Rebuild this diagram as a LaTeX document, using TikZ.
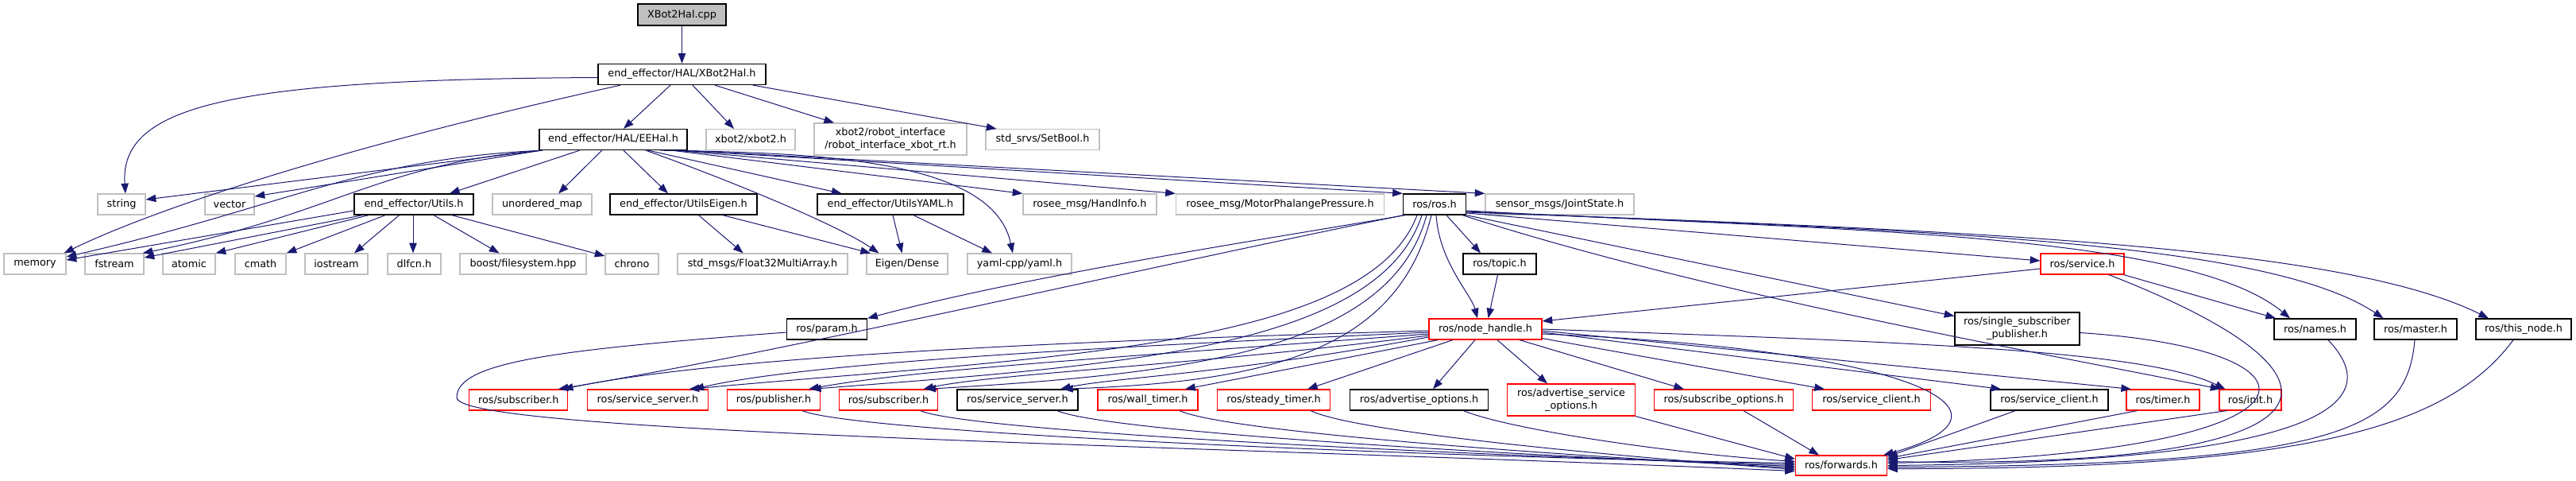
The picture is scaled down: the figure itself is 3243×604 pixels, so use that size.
\documentclass[tikz,border=0pt]{standalone}
\usepackage{fontspec}
\setmainfont{DejaVu Sans}
\usetikzlibrary{arrows.meta,calc}
\definecolor{edgec}{HTML}{191970}
\definecolor{grayb}{HTML}{BFBFBF}
\definecolor{redb}{HTML}{FF0000}
\begin{document}
\begin{tikzpicture}[x=0.75pt,y=-0.75pt,
 base/.style={rectangle, inner sep=0pt, minimum height=19.5pt, fill=white, font=\fontsize{9.6pt}{12pt}\selectfont, align=center},
 nb/.style={base, draw=black, line width=1pt},
 ng/.style={base, draw=grayb, line width=0.9pt},
 nr/.style={base, draw=redb, line width=0.9pt},
 bw/.style={minimum width=#1*0.75pt},
 bh/.style={minimum height=#1*0.75pt},
 conn/.style={draw=edgec, line width=0.75pt, -{Triangle[length=9.5pt,width=7pt]}},
]
\useasboundingbox (0,0) rectangle (3243,604);
% row 0
\node[nb,bw=111,bh=27,fill=grayb] (cpp) at (858.5,18.5) {XBot2Hal.cpp};
% row 1
\node[nb,bw=211] (xh) at (858.5,93.5) {end\_effector/HAL/XBot2Hal.h};
% row 2
\node[nb,bw=186] (ee) at (772,175.5) {end\_effector/HAL/EEHal.h};
\node[ng,bw=112] (xbot2) at (945,175.5) {xbot2/xbot2.h};
\node[ng,bw=192,bh=40] (ri) at (1121,175) {xbot2/robot\_interface\\/robot\_interface\_xbot\_rt.h};
\node[ng,bw=143] (sb) at (1312.5,175.5) {std\_srvs/SetBool.h};
% row 3
\node[ng,bw=60] (string) at (153,257) {string};
\node[ng,bw=62] (vector) at (289,257) {vector};
\node[nb,bw=150] (utils) at (521,257) {end\_effector/Utils.h};
\node[ng,bw=125] (umap) at (682.5,257) {unordered\_map};
\node[nb,bw=185] (ueig) at (860.5,257) {end\_effector/UtilsEigen.h};
\node[nb,bw=184] (uyaml) at (1121,257) {end\_effector/UtilsYAML.h};
\node[ng,bw=168] (hand) at (1372,257) {rosee\_msg/HandInfo.h};
\node[ng,bw=262] (motor) at (1611.5,257) {rosee\_msg/MotorPhalangePressure.h};
\node[nb,bw=79] (ros) at (1806,257) {ros/ros.h};
\node[ng,bw=187] (joint) at (1963.5,257) {sensor\_msgs/JointState.h};
% row 4
\node[ng,bw=78] (memory) at (44,332) {memory};
\node[ng,bw=74] (fstream) at (144,332) {fstream};
\node[ng,bw=66] (atomic) at (238,332) {atomic};
\node[ng,bw=64] (cmath) at (328,332) {cmath};
\node[ng,bw=79] (iostream) at (423.5,332) {iostream};
\node[ng,bw=67] (dlfcn) at (521.5,332) {dlfcn.h};
\node[ng,bw=159] (boost) at (658.5,332) {boost/filesystem.hpp};
\node[ng,bw=67] (chrono) at (795.5,332) {chrono};
\node[ng,bw=214] (f32) at (960,332) {std\_msgs/Float32MultiArray.h};
\node[ng,bw=102] (dense) at (1142,332) {Eigen/Dense};
\node[ng,bw=131] (yaml) at (1283.5,332) {yaml-cpp/yaml.h};
\node[nb,bw=92] (topic) at (1888,332) {ros/topic.h};
\node[nr,bw=105] (service) at (2621.5,332) {ros/service.h};
% row 5
\node[nb,bw=101] (param) at (1041,414) {ros/param.h};
\node[nr,bw=142] (nh) at (1870,414) {ros/node\_handle.h};
\node[nb,bw=157,bh=41] (ssp) at (2539.5,413.5) {ros/single\_subscriber\\\_publisher.h};
\node[nb,bw=103] (names) at (2914.5,414) {ros/names.h};
\node[nb,bw=104] (master) at (3041,414) {ros/master.h};
\node[nb,bw=120] (thisnode) at (3177,414) {ros/this\_node.h};
% row 6
\node[nr,bw=124] (sub1) at (652.75,503) {ros/subscriber.h};
\node[nr,bw=152] (ss1) at (815.5,503) {ros/service\_server.h};
\node[nr,bw=117] (pub) at (974,503) {ros/publisher.h};
\node[nr,bw=124] (sub2) at (1118.5,503) {ros/subscriber.h};
\node[nb,bw=152] (ss2) at (1281,503) {ros/service\_server.h};
\node[nr,bw=126] (wall) at (1445,503) {ros/wall\_timer.h};
\node[nr,bw=142] (steady) at (1603.5,503) {ros/steady\_timer.h};
\node[nb,bw=174] (advopt) at (1786.6,503) {ros/advertise\_options.h};
\node[nr,bw=161,bh=40] (advsrv) at (1978,503) {ros/advertise\_service\\\_options.h};
\node[nr,bw=175] (subopt) at (2170,503) {ros/subscribe\_options.h};
\node[nr,bw=149] (sc1) at (2356,503) {ros/service\_client.h};
\node[nb,bw=148] (sc2) at (2580,503) {ros/service\_client.h};
\node[nr,bw=92] (timer) at (2723,503) {ros/timer.h};
\node[nr,bw=78] (init) at (2833,503) {ros/init.h};
% row 7
\node[nr,bw=115,bh=25] (fwd) at (2318,585.5) {ros/forwards.h};

% ---- edges ----
\draw[conn] (cpp.south) -- (xh.north);
\draw[conn] ($(xh.south)+(-14.5,0)$) -- ($(ee.north)+(13,0)$);
\draw[conn] ($(xh.south)+(13.5,0)$) -- ($(xbot2.north)+(-21,0)$);
\draw[conn] ($(xh.south)+(41.5,0)$) -- ($(ri.north)+(-71,0)$);
\draw[conn] ($(xh.south)+(89.5,0)$) -- ($(sb.north)+(-58,0)$);
\draw[conn] ($(xh.west)+(0,4)$) .. controls (300,100) and (150,130) .. ($(string.north)+(5,0)$);
\draw[conn] ($(xh.south)+(-77.5,0)$) .. controls (450,180) and (200,260) .. ($(memory.north east)+(-3,0)$);
% EEHal
\draw[conn] ($(ee.south west)+(2,0)$) -- ($(string.east)+(0,-6)$);
\draw[conn] ($(ee.south west)+(3,0)$) -- ($(vector.east)+(0,-10)$);
\draw[conn] ($(ee.south west)+(4,0)$) .. controls (450,200) and (360,260) .. ($(memory.east)+(0,-9)$);
\draw[conn] ($(ee.south west)+(5,0)$) .. controls (480,205) and (420,270) .. ($(fstream.north east)+(-2,0)$);
\draw[conn] ($(ee.south)+(-42.4,0)$) -- ($(utils.north)+(45,0)$);
\draw[conn] ($(ee.south)+(-14.3,0)$) -- ($(umap.north)+(20.5,0)$);
\draw[conn] ($(ee.south)+(13,0)$) -- ($(ueig.north)+(-19.5,0)$);
\draw[conn] ($(ee.south)+(41,0)$) .. controls (900,220) and (1050,280) .. ($(dense.north)+(-35.5,0)$);
\draw[conn] ($(ee.south)+(44,0)$) -- ($(uyaml.north)+(-61.4,0)$);
\draw[conn] ($(ee.south)+(59,0)$) .. controls (1030,192) and (1250,200) .. ($(yaml.north)+(-8.5,0)$);
\draw[conn] ($(ee.south east)+(-20,0)$) -- (hand.north west);
\draw[conn] ($(ee.south east)+(-15,0)$) -- (motor.north west);
\draw[conn] ($(ee.south east)+(-10,0)$) -- (ros.north west);
\draw[conn] ($(ee.south east)+(-5,0)$) -- (joint.north west);
% Utils
\draw[conn] ($(utils.west)+(0,8)$) -- ($(memory.east)+(0,-5)$);
\draw[conn] ($(utils.south west)+(11,0)$) -- ($(fstream.east)+(0,-8)$);
\draw[conn] ($(utils.south)+(-57,0)$) -- (atomic.north east);
\draw[conn] ($(utils.south)+(-36,0)$) -- (cmath.north east);
\draw[conn] ($(utils.south)+(-18.5,0)$) -- ($(iostream.north)+(22.5,0)$);
\draw[conn] ($(utils.south)+(-1,0)$) -- ($(dlfcn.north)+(-1.5,0)$);
\draw[conn] ($(utils.south)+(25,0)$) -- ($(boost.north)+(-30,0)$);
\draw[conn] ($(utils.south)+(48,0)$) -- ($(chrono.west)+(0,-10)$);
% UtilsEigen, UtilsYAML
\draw[conn] ($(ueig.south)+(19,0)$) -- ($(f32.north)+(-24.4,0)$);
\draw[conn] ($(ueig.south)+(49.5,0)$) -- ($(dense.north)+(-46,0)$);
\draw[conn] ($(uyaml.south)+(3,0)$) -- ($(dense.north)+(-6.4,0)$);
\draw[conn] ($(uyaml.south)+(29,0)$) -- ($(yaml.north)+(-34.5,0)$);
% ros.h
\draw[conn] ($(ros.south west)+(3,0)$) .. controls (1600,300) and (1300,345) .. (param.north east);
\draw[conn] ($(ros.south west)+(1,0)$) .. controls (1400,345) and (1000,440) .. ($(sub1.north)+(50,0)$);
\draw[conn] ($(ros.south)+(-22,0)$) .. controls (1720,440) and (1300,450) .. ($(ss1.north)+(52,0)$);
\draw[conn] ($(ros.south)+(-16,0)$) .. controls (1735,440) and (1400,460) .. ($(pub.north)+(47,0)$);
\draw[conn] ($(ros.south)+(-10,0)$) .. controls (1750,440) and (1500,470) .. ($(sub2.north)+(47,0)$);
\draw[conn] ($(ros.south)+(-4,0)$) .. controls (1760,440) and (1600,480) .. ($(ss2.north)+(57,0)$);
\draw[conn] ($(ros.south)+(2,0)$) .. controls (1812,330) and (1852,370) .. ($(nh.north)+(-10,0)$);
\draw[conn] ($(ros.south)+(15,0)$) -- ($(topic.north)+(-24,0)$);
\draw[conn] ($(topic.south)+(-2.5,0)$) -- ($(nh.north)+(3.6,0)$);
\draw[conn] ($(ros.east)+(0,11)$) -- ($(service.west)+(0,-4)$);
\draw[conn] (ros.south east) -- ($(ssp.west)+(0,-16)$);
\draw[conn] ($(ros.south east)+(-5,0)$) .. controls (2150,370) and (2550,440) .. ($(init.north west)+(2,0)$);
\draw[conn] ($(ros.east)+(0,8)$) .. controls (2300,290) and (2750,290) .. ($(names.north)+(-31.5,0)$);
\draw[conn] ($(ros.east)+(0,9)$) .. controls (2400,290) and (2850,300) .. ($(master.north)+(-40.5,0)$);
\draw[conn] ($(ros.east)+(0,10)$) .. controls (2500,290) and (2950,310) .. ($(thisnode.north)+(-44,0)$);
% service.h
\draw[conn] ($(service.west)+(0,6)$) -- ($(nh.east)+(0,-10)$);
\draw[conn] ($(service.south east)+(-1,0)$) -- ($(names.north)+(-49.5,0)$);
\draw[conn] ($(service.south)+(33.5,0)$) .. controls (3000,480) and (2950,590) .. ($(fwd.east)+(0,-5)$);
% ssp, names, master, this_node
\draw[conn] ($(ssp.east)+(0,5)$) .. controls (2950,440) and (2950,570) .. ($(fwd.east)+(0,-3)$);
\draw[conn] ($(names.south)+(16.5,0)$) .. controls (3000,500) and (2950,580) .. ($(fwd.east)+(0,0)$);
\draw[conn] ($(master.south)+(-1,0)$) .. controls (3030,540) and (2950,585) .. ($(fwd.east)+(0,2)$);
\draw[conn] ($(thisnode.south)+(-13,0)$) .. controls (3080,540) and (2900,590) .. ($(fwd.east)+(0,4)$);
% node_handle
\draw[conn] ($(nh.west)+(0,2)$) .. controls (1300,430) and (900,450) .. ($(sub1.north)+(56,0)$);
\draw[conn] ($(nh.west)+(0,4)$) .. controls (1300,440) and (1000,460) .. ($(ss1.north)+(58,0)$);
\draw[conn] ($(nh.west)+(0,6)$) .. controls (1400,450) and (1150,465) .. ($(pub.north)+(44,0)$);
\draw[conn] ($(nh.west)+(0,8)$) .. controls (1500,460) and (1250,470) .. ($(sub2.north)+(44,0)$);
\draw[conn] ($(nh.west)+(0,10)$) .. controls (1550,470) and (1400,475) .. ($(ss2.north)+(54,0)$);
\draw[conn] ($(nh.south west)+(12,0)$) -- ($(wall.north)+(47,0)$);
\draw[conn] ($(nh.south)+(-41,0)$) -- ($(steady.north)+(42.5,0)$);
\draw[conn] ($(nh.south)+(-13,0)$) -- ($(advopt.north)+(17.4,0)$);
\draw[conn] ($(nh.south)+(15,0)$) -- ($(advsrv.north)+(-30,0)$);
\draw[conn] ($(nh.south)+(43,0)$) -- ($(subopt.north)+(-50,0)$);
\draw[conn] ($(nh.south east)+(0,-2)$) -- ($(sc1.north)+(-59,0)$);
\draw[conn] ($(nh.east)+(0,4)$) -- ($(sc2.north)+(-61,0)$);
\draw[conn] ($(nh.east)+(0,2)$) -- ($(timer.north)+(-40,0)$);
\draw[conn] (nh.east) .. controls (2400,430) and (2700,440) .. ($(init.north west)+(8,0)$);
\draw[conn] ($(nh.east)+(0,6)$) .. controls (2420,440) and (2560,520) .. ($(fwd.north east)+(-5,0)$);
% row 6 -> forwards
\draw[conn] ($(pub.south)+(36,0)$) .. controls (1080,545) and (1800,575) .. ($(fwd.west)+(0,-3)$);
\draw[conn] ($(sub2.south)+(40,0)$) .. controls (1230,545) and (1900,575) .. ($(fwd.west)+(0,-1)$);
\draw[conn] ($(ss2.south)+(50,0)$) .. controls (1400,545) and (1950,575) .. ($(fwd.west)+(0,1)$);
\draw[conn] ($(wall.south)+(40,0)$) .. controls (1550,545) and (2000,575) .. ($(fwd.west)+(0,3)$);
\draw[conn] ($(steady.south)+(46.5,0)$) .. controls (1710,545) and (2050,575) .. ($(fwd.west)+(0,5)$);
\draw[conn] ($(advopt.south)+(56,0)$) .. controls (1900,540) and (2100,570) .. ($(fwd.west)+(0,-5)$);
\draw[conn] (advsrv.south east) -- ($(fwd.north west)+(0,5)$);
\draw[conn] ($(subopt.south)+(25,0)$) -- ($(fwd.north)+(-28,0)$);
\draw[conn] ($(param.west)+(0,4)$) .. controls (700,440) and (575,455) .. (575,500) .. controls (575,545) and (1500,560) .. ($(fwd.west)+(0,7)$);
\draw[conn] ($(sc2.south)+(-43,0)$) -- ($(fwd.east)+(0,-11)$);
\draw[conn] ($(timer.south)+(-32.5,0)$) -- ($(fwd.east)+(0,-9)$);
\draw[conn] ($(init.south)+(-30,0)$) -- ($(fwd.east)+(0,-7)$);
\end{tikzpicture}
\end{document}
